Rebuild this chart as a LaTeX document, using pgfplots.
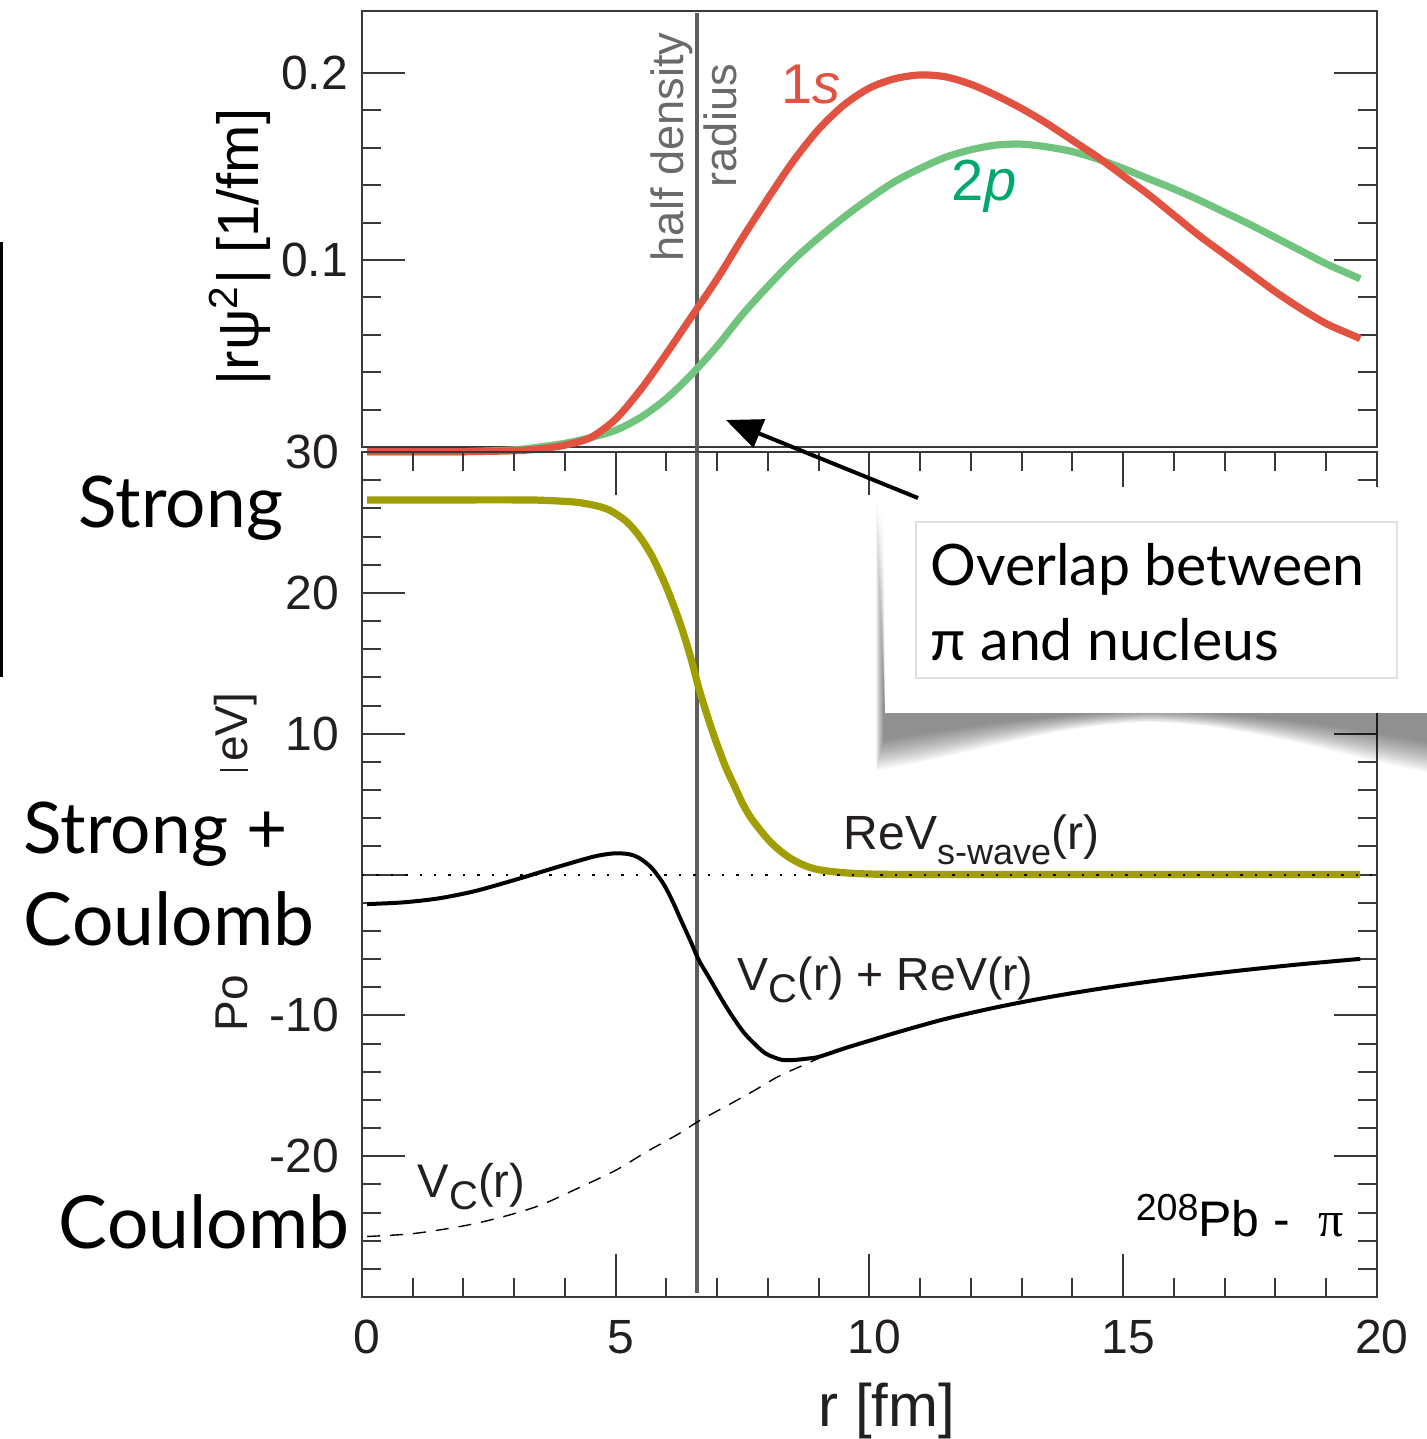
\documentclass[border=0pt]{standalone}
\usepackage{pgfplots}
\pgfplotsset{compat=1.18}
\usepackage{fontspec}
\setmainfont{Liberation Sans}
\newfontfamily\lato{Lato}
\newfontfamily\tms{Liberation Serif}
\usetikzlibrary{arrows.meta}
\definecolor{red1}{HTML}{E25241}
\definecolor{green1}{HTML}{70C47E}
\definecolor{green2}{HTML}{00A870}
\definecolor{olive1}{HTML}{A09E00}
\definecolor{vgray}{HTML}{5E5E5E}
\definecolor{hgray}{HTML}{6A6A6A}
\definecolor{axiscol}{HTML}{3A383A}
\definecolor{labcol}{HTML}{231F20}
\begin{document}
\begin{tikzpicture}
\useasboundingbox (0,0) rectangle (356.75pt,-359.75pt);
\pgfplotsset{
  myframe/.style={
    scale only axis, anchor=south west, width=253.75pt,
    axis line style={draw=axiscol, line width=0.5pt},
    tick align=inside,
    major tick length=10.75pt, minor tick length=4.75pt,
    tick style={draw=axiscol, line width=0.5pt},
    ticklabel style={font=\fontsize{12}{14}\selectfont, text=labcol},
    xmin=0, xmax=20,
  }
}
% ---------------- top panel ----------------
\begin{axis}[myframe,
  at={(90.5pt,-111.75pt)}, height=109pt,
  ymin=0, ymax=0.2332,
  xtick=\empty,
  minor xtick={1,2,3,4,6,7,8,9,11,12,13,14,16,17,18,19},
  xtick pos=left,
  ytick={0,0.1,0.2}, yticklabels={,0.1,0.2},
  minor y tick num=4, ytick pos=both,
  clip=false]
\addplot[vgray, line width=1pt] coordinates {(6.6,-0.003) (6.6,0.2321)};
\addplot[green1, line width=1.8pt, smooth] coordinates {
(0.1,-0.0025) (1,-0.0025) (2,-0.0025) (3,-0.0015) (3.5,0.0) (4.0,0.002) (4.5,0.005)
(5.0,0.009) (5.5,0.016) (6.0,0.026) (6.5,0.039) (7.0,0.054) (7.5,0.071) (8.0,0.086)
(8.5,0.100) (9.0,0.112) (9.5,0.123) (10.0,0.133) (10.5,0.142) (11.0,0.149) (11.5,0.155)
(12.0,0.159) (12.5,0.1615) (13.0,0.162) (13.5,0.1605) (14.0,0.158) (14.5,0.154)
(15.0,0.149) (15.5,0.1435) (16.0,0.138) (16.5,0.132) (17.0,0.1255) (17.5,0.119)
(18.0,0.112) (18.5,0.105) (19.0,0.098) (19.5,0.092) (19.67,0.090)};
\addplot[red1, line width=1.8pt, smooth] coordinates {
(0.1,-0.0025) (1,-0.0025) (2,-0.0025) (3,-0.002) (3.5,-0.001) (4.0,0.001) (4.5,0.005)
(5.0,0.015) (5.5,0.031) (6.0,0.050) (6.5,0.070) (7.0,0.090) (7.5,0.112) (8.0,0.133)
(8.5,0.153) (9.0,0.170) (9.5,0.183) (10.0,0.192) (10.5,0.197) (11.0,0.199) (11.5,0.198)
(12.0,0.194) (12.5,0.188) (13.0,0.181) (13.5,0.173) (14.0,0.164) (14.5,0.155)
(15.0,0.145) (15.5,0.135) (16.0,0.124) (16.5,0.113) (17.0,0.103) (17.5,0.093)
(18.0,0.083) (18.5,0.074) (19.0,0.066) (19.5,0.060) (19.67,0.058)};
\end{axis}
% ---------------- lower panel ----------------
\begin{axis}[myframe,
  at={(90.5pt,-324.25pt)}, height=211.25pt,
  ymin=-30, ymax=30,
  xtick={0,5,10,15,20}, xticklabels={0,5,10,15,20},
  minor x tick num=4, xtick pos=both,
  ytick={-30,-20,-10,0,10,20,30}, yticklabels={,-20,-10,,10,20,30},
  minor y tick num=4, ytick pos=both,
  xticklabel style={yshift=-2.25pt, xshift=1.25pt},
  yticklabel style={xshift=-2.25pt}]
\addplot[vgray, line width=1pt] coordinates {(6.6,30) (6.6,-29.7)};
\addplot[black, line width=0.35pt, dash pattern=on 3.25pt off 2.5pt, smooth] coordinates {
(0.1,-25.7) (1,-25.5) (2,-24.95) (2.78,-24.3) (3.5,-23.5) (4.18,-22.4) (5,-21.0)
(5.6,-19.7) (6.2,-18.5) (6.64,-17.5) (7.2,-16.4) (7.7,-15.4) (8.2,-14.35) (8.75,-13.45)
(9.0,-13.05)};
\addplot[olive1, line width=1.8pt, smooth] coordinates {
(0.1,26.6) (1,26.6) (2,26.6) (3,26.6) (3.5,26.58) (4.18,26.45) (4.6,26.2) (4.89,25.85)
(5.2,25.1) (5.45,24.1) (5.7,22.7) (5.94,20.9) (6.12,19.3) (6.29,17.6) (6.47,15.5)
(6.64,13.2) (6.82,11.1) (6.99,9.3) (7.17,7.6) (7.35,6.2) (7.52,4.9) (7.7,3.84)
(8.05,2.3) (8.4,1.25) (8.75,0.6) (9.1,0.28) (9.8,0.06) (11,0.0) (15,0) (19.67,0)};
\addplot[black, line width=0.5pt, dash pattern=on 0.6pt off 3pt] coordinates {(0,0) (20,0)};
\addplot[black, line width=1pt, smooth] coordinates {
(0.1,-2.1) (0.8,-1.98) (1.5,-1.7) (2.2,-1.2) (2.9,-0.5) (3.5,0.15) (4.1,0.8) (4.6,1.3)
(4.96,1.5) (5.25,1.45) (5.45,1.2) (5.7,0.5) (5.94,-0.66) (6.12,-1.9)
(6.29,-3.27) (6.47,-4.7) (6.64,-6.1) (6.82,-7.2) (6.99,-8.26) (7.17,-9.35) (7.35,-10.35)
(7.52,-11.2) (7.7,-11.9) (7.95,-12.7) (8.26,-13.15) (8.5,-13.17) (8.75,-13.08) (9.0,-12.95)
(9.5,-12.35) (10.0,-11.8) (10.6,-11.15) (11.5,-10.25) (12.5,-9.43) (13.5,-8.73) (14.5,-8.13)
(15.5,-7.61) (16.5,-7.15) (17.5,-6.74) (18.5,-6.37) (19.67,-5.99)};
\end{axis}
% ---------------- annotations (pixel frame) ----------------
\begin{scope}[x=0.25pt,y=-0.25pt]
% curve labels
\node[anchor=base west, inner sep=0, text=red1, font=\fontsize{14}{16}\selectfont] at (781,103) {1\textit{s}};
\node[anchor=base west, inner sep=0, text=green2, font=\fontsize{14.5}{16}\selectfont] at (951,200) {2\textit{p}};
\node[rotate=90, anchor=base west, inner sep=0, text=hgray, font=\fontsize{11.3}{13}\selectfont] at (684,262) {half density};
\node[rotate=90, anchor=base west, inner sep=0, text=hgray, font=\fontsize{11.3}{13}\selectfont] at (736,188) {radius};
\node[anchor=base west, inner sep=0, text=labcol, font=\fontsize{12}{14}\selectfont] at (843,849)
  {ReV\raisebox{-3.75pt}{\fontsize{9}{10}\selectfont s-wave}(r)};
\node[anchor=base west, inner sep=0, text=labcol, font=\fontsize{11.6}{14}\selectfont] at (737,990)
  {V\raisebox{-3pt}{\fontsize{10}{11}\selectfont C}(r) + ReV(r)};
\node[anchor=base west, inner sep=0, text=labcol, font=\fontsize{11.8}{14}\selectfont] at (417,1197)
  {V\raisebox{-3pt}{\fontsize{10}{11}\selectfont C}(r)};
\node[anchor=base west, inner sep=0, text=black, font=\fontsize{12.5}{14}\selectfont] at (1135,1236)
  {\raisebox{4pt}{\fontsize{9.4}{10}\selectfont 208}Pb -\ \ {\tms π}};
% axis labels
\node[rotate=90, anchor=base, inner sep=0, text=black, font=\fontsize{14.5}{16}\selectfont] at (258,247)
  {|rψ\textsuperscript{2}| [1/fm]};
\node[anchor=base, inner sep=0, text=labcol, font=\fontsize{15}{17}\selectfont] at (887,1426) {r [fm]};
\node[rotate=90, anchor=base west, inner sep=0, text=labcol, font=\fontsize{11.5}{13}\selectfont] at (248,1032) {Po};
\node[rotate=90, anchor=base east, inner sep=0, text=labcol, font=\fontsize{11.5}{13}\selectfont] at (248,692) {eV]};
\draw[labcol, line width=0.35pt] (220,770) -- (248,770);
% overlaid slide text
\draw[black, line width=0.75pt] (1.5,242) -- (1.5,677);
\node[anchor=base west, inner sep=0, font=\lato\fontsize{17.8}{20}\selectfont] at (78,527) {Strong};
\node[anchor=base west, inner sep=0, font=\lato\fontsize{17.8}{20}\selectfont] at (23,853) {Strong +};
\node[anchor=base west, inner sep=0, font=\lato\fontsize{18.3}{20}\selectfont] at (23,945) {Coulomb};
\node[anchor=base west, inner sep=0, font=\lato\fontsize{18.3}{20}\selectfont] at (58,1248) {Coulomb};
% callout shadow (soft, layered)
\foreach \k in {0,...,15} {
  \fill[black, opacity=0.036] ({876+0.5*\k},{500+\k}) -- ({876+0.5*\k},{770-2*\k})
    .. controls (960,{758-2*\k}) and (1050,{724-0.75*\k}) .. (1150,{722-0.75*\k})
    .. controls (1250,{724-0.75*\k}) and (1340,{756-2*\k}) .. (1427,{772-2*\k})
    -- (1427,713) -- (885,713) -- cycle;
}
% callout box
\fill[white] (885,487) rectangle (1427,713);
\draw[black!12, line width=0.5pt] (916,522) rectangle (1397,678);
\node[anchor=base west, inner sep=0, font=\lato\fontsize{14.3}{18}\selectfont] at (930,585) {Overlap between};
\node[anchor=base west, inner sep=0, font=\lato\fontsize{14.3}{18}\selectfont] at (930,660) {π and nucleus};
% arrow
\draw[black, line width=1pt, -{Triangle[length=9pt, width=7.5pt]}] (918,498) -- (726,420);
\end{scope}
\end{tikzpicture}
\end{document}
